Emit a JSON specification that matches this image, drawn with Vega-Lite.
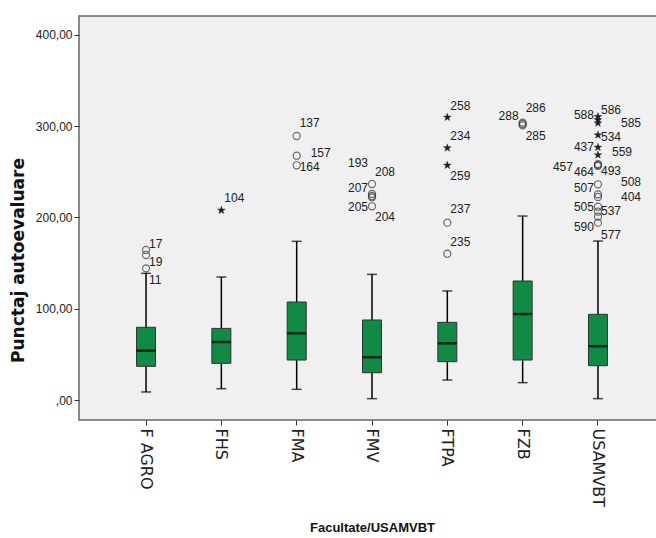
{
  "$schema": "https://vega.github.io/schema/vega-lite/v6.json",
  "autosize": {"type": "none"},
  "width": 586,
  "height": 404,
  "padding": {"left": 79, "top": 16, "right": 0, "bottom": 118},
  "background": "white",
  "config": {
    "view": {"stroke": "#666666", "strokeWidth": 1.5, "fill": "#f0f0f0"},
    "font": "Liberation Sans"
  },
  "datasets": {
    "boxes": [
      {"fac": "F AGRO", "lower": 8.8, "q1": 36.9, "med": 54.1, "q3": 79.7, "upper": 138.8},
      {"fac": "FHS", "lower": 12.4, "q1": 40.2, "med": 63.6, "q3": 78.5, "upper": 134.8},
      {"fac": "FMA", "lower": 11.7, "q1": 43.8, "med": 73.1, "q3": 107.4, "upper": 173.9},
      {"fac": "FMV", "lower": 1.5, "q1": 29.9, "med": 46.8, "q3": 87.7, "upper": 137.7},
      {"fac": "FTPA", "lower": 21.9, "q1": 42.0, "med": 62.1, "q3": 85.1, "upper": 119.5},
      {"fac": "FZB", "lower": 19.0, "q1": 43.8, "med": 94.2, "q3": 130.4, "upper": 201.6},
      {"fac": "USAMVBT", "lower": 1.5, "q1": 37.6, "med": 58.8, "q3": 93.9, "upper": 174.2}
    ],
    "outliers": [
      {"fac": "F AGRO", "id": "17", "v": 164.4, "sym": "circle", "ly": 171.0, "pos": "R"},
      {"fac": "F AGRO", "id": "19", "v": 158.9, "sym": "circle", "ly": 151.6, "pos": "R"},
      {"fac": "F AGRO", "id": "11", "v": 144.3, "sym": "circle", "ly": 131.5, "pos": "R"},
      {"fac": "FHS", "id": "104", "v": 207.9, "sym": "star", "ly": 221.0, "pos": "R"},
      {"fac": "FMA", "id": "137", "v": 289.3, "sym": "circle", "ly": 303.6, "pos": "R"},
      {"fac": "FMA", "id": "157", "v": 267.7, "sym": "circle", "ly": 270.4, "pos": "RM"},
      {"fac": "FMA", "id": "164", "v": 257.2, "sym": "circle", "ly": 255.0, "pos": "R"},
      {"fac": "FMV", "id": "193", "v": 223.6, "sym": "circle", "ly": 259.4, "pos": "L"},
      {"fac": "FMV", "id": "208", "v": 236.7, "sym": "circle", "ly": 250.2, "pos": "R"},
      {"fac": "FMV", "id": "207", "v": 225.8, "sym": "circle", "ly": 232.0, "pos": "L"},
      {"fac": "FMV", "id": "205", "v": 222.1, "sym": "circle", "ly": 211.2, "pos": "L"},
      {"fac": "FMV", "id": "204", "v": 212.3, "sym": "circle", "ly": 200.2, "pos": "R"},
      {"fac": "FTPA", "id": "258", "v": 309.8, "sym": "star", "ly": 322.5, "pos": "R"},
      {"fac": "FTPA", "id": "234", "v": 276.2, "sym": "star", "ly": 289.6, "pos": "R"},
      {"fac": "FTPA", "id": "259", "v": 257.2, "sym": "star", "ly": 245.8, "pos": "R"},
      {"fac": "FTPA", "id": "237", "v": 194.3, "sym": "circle", "ly": 209.0, "pos": "R"},
      {"fac": "FTPA", "id": "235", "v": 160.3, "sym": "circle", "ly": 173.5, "pos": "R"},
      {"fac": "FZB", "id": "286", "v": 304.0, "sym": "circle", "ly": 319.7, "pos": "R"},
      {"fac": "FZB", "id": "288", "v": 302.5, "sym": "circle", "ly": 311.6, "pos": "L"},
      {"fac": "FZB", "id": "285", "v": 301.0, "sym": "circle", "ly": 289.6, "pos": "R"},
      {"fac": "USAMVBT", "id": "586", "v": 310.5, "sym": "star", "ly": 317.8, "pos": "R"},
      {"fac": "USAMVBT", "id": "588", "v": 307.0, "sym": "star", "ly": 312.3, "pos": "L"},
      {"fac": "USAMVBT", "id": "585", "v": 303.5, "sym": "star", "ly": 303.9, "pos": "RR"},
      {"fac": "USAMVBT", "id": "534", "v": 290.4, "sym": "star", "ly": 288.2, "pos": "R"},
      {"fac": "USAMVBT", "id": "437", "v": 276.9, "sym": "star", "ly": 276.9, "pos": "L"},
      {"fac": "USAMVBT", "id": "559", "v": 268.5, "sym": "star", "ly": 272.1, "pos": "RM"},
      {"fac": "USAMVBT", "id": "457", "v": 258.5, "sym": "circle", "ly": 255.7, "pos": "LL"},
      {"fac": "USAMVBT", "id": "464", "v": 257.5, "sym": "circle", "ly": 250.2, "pos": "L"},
      {"fac": "USAMVBT", "id": "493", "v": 256.5, "sym": "circle", "ly": 251.0, "pos": "R"},
      {"fac": "USAMVBT", "id": "507", "v": 236.4, "sym": "circle", "ly": 232.7, "pos": "L"},
      {"fac": "USAMVBT", "id": "508", "v": 225.4, "sym": "circle", "ly": 238.6, "pos": "RR"},
      {"fac": "USAMVBT", "id": "404", "v": 222.5, "sym": "circle", "ly": 222.8, "pos": "RR"},
      {"fac": "USAMVBT", "id": "505", "v": 211.8, "sym": "circle", "ly": 211.2, "pos": "L"},
      {"fac": "USAMVBT", "id": "537", "v": 206.4, "sym": "circle", "ly": 207.5, "pos": "R"},
      {"fac": "USAMVBT", "id": "590", "v": 200.9, "sym": "circle", "ly": 189.9, "pos": "L"},
      {"fac": "USAMVBT", "id": "577", "v": 194.3, "sym": "circle", "ly": 180.8, "pos": "R"}
    ]
  },
  "encoding": {
    "x": {
      "field": "fac",
      "type": "nominal",
      "sort": ["F AGRO", "FHS", "FMA", "FMV", "FTPA", "FZB", "USAMVBT"],
      "scale": {"type": "band", "paddingInner": 0, "paddingOuter": 0.39},
      "axis": {
        "orient": "bottom",
        "title": "Facultate/USAMVBT",
        "titleFont": "Liberation Sans",
        "titleFontSize": 13,
        "titleFontWeight": "bold",
        "titleColor": "#111111",
        "titleBaseline": "middle",
        "titleY": 107,
        "labelAngle": 90,
        "labelAlign": "left",
        "labelBaseline": "middle",
        "labelFont": "DejaVu Sans",
        "labelFontSize": 16,
        "labelColor": "#222222",
        "labelPadding": 3,
        "tickSize": 5,
        "tickColor": "#333333",
        "bandPosition": 0.5,
        "domain": false,
        "grid": false
      }
    }
  },
  "layer": [
    {
      "data": {"name": "boxes"},
      "mark": {"type": "rule", "color": "black", "strokeWidth": 1.5},
      "encoding": {
        "y": {
          "field": "lower",
          "type": "quantitative",
          "scale": {"domain": [-21.9, 420.8], "nice": false, "zero": false},
          "axis": {
            "orient": "left",
            "title": "Punctaj autoevaluare",
            "titleFont": "DejaVu Sans",
            "titleFontSize": 17,
            "titleFontWeight": "bold",
            "titleColor": "#111111",
            "titleAngle": 270,
            "titleBaseline": "middle",
            "titleAlign": "center",
            "titleX": -61,
            "titleY": 244,
            "values": [0, 100, 200, 300, 400],
            "labelExpr": "datum.value == 0 ? ',00' : datum.value + ',00'",
            "labelFont": "Liberation Sans",
            "labelFontSize": 12,
            "labelColor": "#222222",
            "labelPadding": 2,
            "tickSize": 5,
            "tickColor": "#333333",
            "domain": false,
            "grid": false
          }
        },
        "y2": {"field": "upper"}
      }
    },
    {
      "data": {"name": "boxes"},
      "mark": {"type": "tick", "color": "black", "size": 10, "thickness": 1.5},
      "encoding": {"y": {"field": "lower", "type": "quantitative"}}
    },
    {
      "data": {"name": "boxes"},
      "mark": {"type": "tick", "color": "black", "size": 10, "thickness": 1.5},
      "encoding": {"y": {"field": "upper", "type": "quantitative"}}
    },
    {
      "data": {"name": "boxes"},
      "mark": {"type": "bar", "size": 19, "fill": "#118a46", "stroke": "#333333", "strokeWidth": 1},
      "encoding": {
        "y": {"field": "q1", "type": "quantitative"},
        "y2": {"field": "q3"}
      }
    },
    {
      "data": {"name": "boxes"},
      "mark": {"type": "tick", "color": "black", "size": 19, "thickness": 2.5},
      "encoding": {"y": {"field": "med", "type": "quantitative"}}
    },
    {
      "data": {"name": "outliers"},
      "transform": [{"filter": "datum.sym == 'circle'"}],
      "mark": {"type": "point", "shape": "circle", "filled": false, "size": 50, "stroke": "#333333", "strokeWidth": 1.2},
      "encoding": {"y": {"field": "v", "type": "quantitative"}}
    },
    {
      "data": {"name": "outliers"},
      "transform": [{"filter": "datum.sym == 'star'"}],
      "mark": {"type": "point", "shape": "M0,-1L0.235,-0.324L0.951,-0.309L0.38,0.124L0.588,0.809L0,0.4L-0.588,0.809L-0.38,0.124L-0.951,-0.309L-0.235,-0.324Z", "filled": true, "size": 70, "fill": "#222222", "stroke": "#222222", "strokeWidth": 0.3, "opacity": 1},
      "encoding": {"y": {"field": "v", "type": "quantitative"}}
    },
    {
      "data": {"name": "outliers"},
      "transform": [{"filter": "datum.pos == 'R'"}],
      "mark": {"type": "text", "align": "left", "baseline": "middle", "dx": 3, "fontSize": 12, "fill": "#222222"},
      "encoding": {"y": {"field": "ly", "type": "quantitative"}, "text": {"field": "id", "type": "nominal"}}
    },
    {
      "data": {"name": "outliers"},
      "transform": [{"filter": "datum.pos == 'RM'"}],
      "mark": {"type": "text", "align": "left", "baseline": "middle", "dx": 14, "fontSize": 12, "fill": "#222222"},
      "encoding": {"y": {"field": "ly", "type": "quantitative"}, "text": {"field": "id", "type": "nominal"}}
    },
    {
      "data": {"name": "outliers"},
      "transform": [{"filter": "datum.pos == 'RR'"}],
      "mark": {"type": "text", "align": "left", "baseline": "middle", "dx": 23, "fontSize": 12, "fill": "#222222"},
      "encoding": {"y": {"field": "ly", "type": "quantitative"}, "text": {"field": "id", "type": "nominal"}}
    },
    {
      "data": {"name": "outliers"},
      "transform": [{"filter": "datum.pos == 'L'"}],
      "mark": {"type": "text", "align": "right", "baseline": "middle", "dx": -4, "fontSize": 12, "fill": "#222222"},
      "encoding": {"y": {"field": "ly", "type": "quantitative"}, "text": {"field": "id", "type": "nominal"}}
    },
    {
      "data": {"name": "outliers"},
      "transform": [{"filter": "datum.pos == 'LL'"}],
      "mark": {"type": "text", "align": "right", "baseline": "middle", "dx": -25, "fontSize": 12, "fill": "#222222"},
      "encoding": {"y": {"field": "ly", "type": "quantitative"}, "text": {"field": "id", "type": "nominal"}}
    }
  ]
}
